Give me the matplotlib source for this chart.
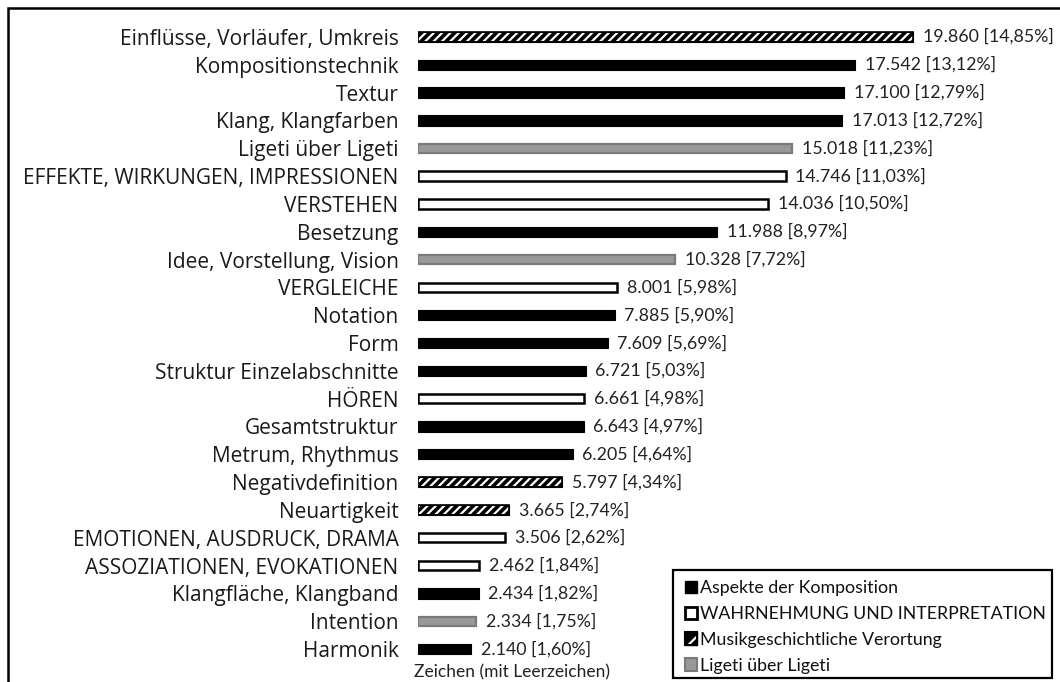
import matplotlib
matplotlib.use("Agg")
import matplotlib.pyplot as plt
from matplotlib.patches import Patch, Rectangle
from matplotlib.legend_handler import HandlerTuple

categories = [
    "Einflüsse, Vorläufer, Umkreis", "Kompositionstechnik", "Textur",
    "Klang, Klangfarben", "Ligeti über Ligeti",
    "EFFEKTE, WIRKUNGEN, IMPRESSIONEN", "VERSTEHEN", "Besetzung",
    "Idee, Vorstellung, Vision", "VERGLEICHE", "Notation", "Form",
    "Struktur Einzelabschnitte", "HÖREN", "Gesamtstruktur",
    "Metrum, Rhythmus", "Negativdefinition", "Neuartigkeit",
    "EMOTIONEN, AUSDRUCK, DRAMA", "ASSOZIATIONEN, EVOKATIONEN",
    "Klangfläche, Klangband", "Intention", "Harmonik",
]
values = [19860, 17542, 17100, 17013, 15018, 14746, 14036, 11988, 10328,
          8001, 7885, 7609, 6721, 6661, 6643, 6205, 5797, 3665, 3506, 2462,
          2434, 2334, 2140]
percents = ["14,85", "13,12", "12,79", "12,72", "11,23", "11,03", "10,50",
            "8,97", "7,72", "5,98", "5,90", "5,69", "5,03", "4,98", "4,97",
            "4,64", "4,34", "2,74", "2,62", "1,84", "1,82", "1,75", "1,60"]
# K = Aspekte der Komposition, W = Wahrnehmung, M = Musikgeschichtliche, L = Ligeti
groups = ["M", "K", "K", "K", "L", "W", "W", "K", "L", "W", "K", "K", "K",
          "W", "K", "K", "M", "M", "W", "W", "K", "L", "K"]
legend_labels = {
    "K": "Aspekte der Komposition",
    "W": "WAHRNEHMUNG UND INTERPRETATION",
    "M": "Musikgeschichtliche Verortung",
    "L": "Ligeti über Ligeti",
}
axis_title = "Zeichen (mit Leerzeichen)"

plt.rcParams["hatch.linewidth"] = 1.6
cat_font = ["Open Sans", "DejaVu Sans"]
num_font = ["Lato", "DejaVu Sans"]

W, H = 1060, 682
fig = plt.figure(figsize=(W / 100, H / 100), dpi=100)
ax = fig.add_axes([418 / W, 1 - 663 / H, (1040 - 418) / W, (663 - 23) / H])
ax.set_xlim(0, (1040 - 418) / ((913 - 418) / 19860))
n = len(categories)
ax.set_ylim(n - 0.5, -0.5)
ypos = list(range(n))
bh = 0.37

for y, v, g in zip(ypos, values, groups):
    if g == "K":
        ax.barh(y, v, height=bh, color="black", edgecolor="black", linewidth=0.8)
    elif g == "W":
        ax.barh(y, v, height=bh * 0.9, color="white", edgecolor="black", linewidth=1.8)
    elif g == "L":
        ax.barh(y, v, height=bh * 0.9, color="#999999", edgecolor="#7a7a7a", linewidth=1.6)
    else:
        ax.barh(y, v, height=bh, color="black", edgecolor="black", linewidth=0.8)
        ax.barh(y, v, height=bh * 0.78, color="none", edgecolor="white",
                linewidth=0, hatch="////")
        ax.barh(y, v, height=bh, color="none", edgecolor="black", linewidth=1.2)

for y, v, p in zip(ypos, values, percents):
    txt = f"{v:,}".replace(",", ".") + f" [{p}%]"
    ax.annotate(txt, (v, y), xytext=(7, 0), textcoords="offset points",
                va="center", ha="left", fontsize=12.8, family=num_font,
                color="#222222")

ax.set_yticks(ypos)
ax.set_yticklabels(categories, fontsize=15, family=cat_font, color="#1a1a1a")
ax.tick_params(axis="y", length=0, pad=14)
ax.set_xticks([])
for s in ax.spines.values():
    s.set_visible(False)

fig.text(512 / W, 1 - 672 / H, axis_title, ha="center", va="center",
         fontsize=12.5, family=num_font, color="#222222")

# legend
hK = Patch(facecolor="black", edgecolor="black")
hW = Patch(facecolor="white", edgecolor="black", linewidth=2)
hM = (Patch(facecolor="black", edgecolor="black"),
      Patch(facecolor="none", edgecolor="white", linewidth=0, hatch="//"),
      Patch(facecolor="none", edgecolor="black", linewidth=1.5))
hL = Patch(facecolor="#999999", edgecolor="#7a7a7a", linewidth=1.5)
leg = fig.legend([hK, hW, hM, hL],
                 [legend_labels[k] for k in ["K", "W", "M", "L"]],
                 loc="upper left", bbox_to_anchor=(685 / W, 1 - 580 / H),
                 handler_map={tuple: HandlerTuple(ndivide=1)},
                 prop={"family": num_font, "size": 12.8},
                 handlelength=0.7, handleheight=0.7, handletextpad=0.15,
                 labelspacing=0.56, borderpad=0.0, borderaxespad=0,
                 frameon=False)
for t in leg.get_texts():
    t.set_color("#111111")
fig.patches.append(Rectangle((673 / W, 1 - 678 / H), (1052 - 673) / W,
                             (678 - 570) / H, transform=fig.transFigure,
                             fill=False, edgecolor="black", linewidth=1.6,
                             figure=fig))

# outer border
fig.patches.append(Rectangle((8 / W, -0.1), 1.2, 1 - 8 / H + 0.1,
                             transform=fig.transFigure, fill=False,
                             edgecolor="black", linewidth=1.8, figure=fig))

fig.savefig("out.png", dpi=100)
